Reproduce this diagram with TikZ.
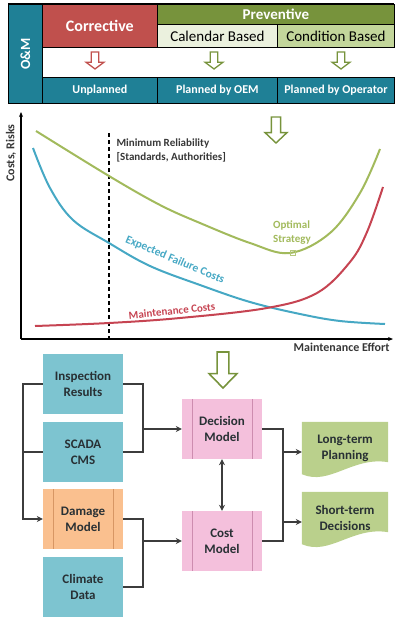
\documentclass[tikz,border=0pt]{standalone}
\usepackage{fontspec}
\setmainfont{Carlito}
\usepackage{xcolor}
\usetikzlibrary{arrows.meta, positioning, calc, backgrounds}
\definecolor{OMTeal}{RGB}{31,128,150}
\definecolor{CorrRed}{RGB}{192,80,77}
\definecolor{PrevGreen}{RGB}{119,147,60}
\definecolor{CalFill}{RGB}{235,241,222}
\definecolor{CondFill}{RGB}{195,214,155}
\definecolor{CurveGreen}{RGB}{162,186,92}
\definecolor{CurveBlue}{RGB}{70,168,196}
\definecolor{CurveRed}{RGB}{198,68,82}
\definecolor{LabelGray}{RGB}{55,55,55}
\definecolor{InputTeal}{RGB}{125,196,208}
\definecolor{ModelPink}{RGB}{244,192,220}
\definecolor{ModelPinkLine}{RGB}{205,140,175}
\definecolor{DamageOrange}{RGB}{250,192,143}
\definecolor{DamageLine}{RGB}{215,150,100}
\definecolor{DocGreen}{RGB}{186,208,140}
\definecolor{BoxText}{RGB}{40,48,52}
\definecolor{ConnGray}{RGB}{60,60,60}
\tikzstyle{cell} = [draw=black, line width=0.8pt, inner sep=0pt, anchor=north west]
\tikzstyle{curve} = [line width=2pt, smooth, tension=0.6]
\tikzstyle{inbox} = [rectangle, fill=InputTeal, minimum width=80pt, minimum height=60pt, text=BoxText, align=center, font=\bfseries\fontsize{13}{16}\selectfont]
\tikzstyle{docbox} = [rectangle, minimum width=86pt, minimum height=52pt, text=BoxText, align=center, font=\bfseries\fontsize{13}{16}\selectfont]
\tikzstyle{conn} = [line width=1.4pt, ConnGray, >={Stealth[length=6pt, width=6pt]}]
\tikzset{
  barbox/.style={inbox, path picture={
    \draw[#1, line width=0.8pt] ([xshift=10pt]path picture bounding box.north west) -- ([xshift=10pt]path picture bounding box.south west)
      ([xshift=-10pt]path picture bounding box.north east) -- ([xshift=-10pt]path picture bounding box.south east);}},
  hollowarrow/.pic={
    \draw[pic actions] (-0.21,0) -- (0.21,0) -- (0.21,0.6) -- (0.5,0.6) -- (0,1) -- (-0.5,0.6) -- (-0.21,0.6) -- cycle;}
}
\newcommand{\docfill}[1]{\fill[DocGreen] (#1.north west) -- (#1.north east) -- ([yshift=12pt]#1.south east)
  .. controls ([xshift=-36pt,yshift=18pt]#1.south east) and ([xshift=28pt,yshift=-12pt]#1.south west) .. (#1.south west) -- cycle;}

\begin{document}
\begin{tikzpicture}[x=1pt, y=-1pt]
    \useasboundingbox (0,0) rectangle (394,618);

    % O&M table
    \node[cell, fill=OMTeal, minimum width=34pt, minimum height=99pt] (om) at (8,4) {};
    \node[rotate=90, text=white, font=\bfseries\fontsize{14}{16}\selectfont] (omlabel) at (om.center) {O\&M};
    \node[cell, fill=CorrRed, minimum width=115pt, minimum height=43pt, text=white, font=\bfseries\fontsize{16}{18}\selectfont] (corr) at (42,4) {Corrective};
    \node[cell, fill=PrevGreen, minimum width=237pt, minimum height=20pt, text=white, font=\bfseries\fontsize{15}{17}\selectfont] (prev) at (157,4) {Preventive};
    \node[cell, fill=CalFill, minimum width=120pt, minimum height=23pt, font=\fontsize{15}{17}\selectfont] (cal) at (157,24) {Calendar Based};
    \node[cell, fill=CondFill, minimum width=117pt, minimum height=23pt, font=\fontsize{15}{17}\selectfont] (cond) at (277,24) {Condition Based};
    \foreach \name/\x/\w/\txt in {unpl/42/115/Unplanned, oem/157/120/Planned by OEM, oper/277/117/Planned by Operator} {
        \node[cell, fill=OMTeal, minimum width=\w pt, minimum height=26pt, text=white, font=\bfseries\fontsize{12}{14}\selectfont] (\name) at (\x,77) {\txt};
    }
    \draw[line width=1.6pt] (8,4) -- (394,4);
    \draw[line width=0.8pt] (42,47) -- (42,77);

    \pic[draw=CorrRed, line width=1.3pt, xscale=18, yscale=17] at (95,52) {hollowarrow};
    \foreach \x in {214, 341} {
        \pic[draw=PrevGreen, line width=1.3pt, xscale=18, yscale=17] at (\x,52) {hollowarrow};
    }

    % cost curves
    \pic[draw=PrevGreen, line width=1.4pt, xscale=22, yscale=26] at (276,117) {hollowarrow};
    \draw[line width=1.6pt, -{Stealth[length=5pt, width=4pt]}] (21,339) -- (21,112);
    \draw[line width=1.6pt, -{Stealth[length=5pt, width=4pt]}] (21,339) -- (393,339);
    \node[rotate=90, text=LabelGray, font=\bfseries\fontsize{12}{14}\selectfont] (ylabel) at (11,153) {Costs, Risks};
    \node[anchor=east, text=LabelGray, font=\bfseries\fontsize{12}{14}\selectfont] (xlabel) at (393,347) {Maintenance Effort};
    \draw[line width=1.2pt, dash pattern=on 4pt off 3pt] (109,133) -- (109,339);
    \node[anchor=west, align=left, text=LabelGray, font=\bfseries\fontsize{11}{14}\selectfont] (minrel) at (113,150) {Minimum Reliability\\{[}Standards, Authorities{]}};

    \draw[curve, CurveGreen] plot coordinates {(36,131) (109,176) (160,205) (200,223) (250,243) (290,253) (330,233) (360,193) (380,149)};
    \draw[curve, CurveBlue] plot coordinates {(33,148) (50,188) (73,220) (109,243) (150,266) (200,285) (250,302) (300,314) (340,321) (385,324)};
    \draw[curve, CurveRed] plot coordinates {(35,326) (109,323) (180,318) (267,308) (317,293) (350,262) (367,232) (383,187)};
    \draw[CurveGreen!80, line width=1pt] (290.5,250.5) rectangle (295.5,255.5);
    \node[align=left, text=CurveGreen, font=\bfseries\fontsize{11}{14}\selectfont] (optimal) at (292,233) {Optimal\\Strategy};
    \node[rotate=-23, text=CurveBlue, font=\bfseries\fontsize{11.5}{14}\selectfont] (failcost) at (175,260) {Expected Failure Costs};
    \node[rotate=6, text=CurveRed, font=\bfseries\fontsize{11}{14}\selectfont] (maintcost) at (172,311) {Maintenance Costs};

    % decision flow
    \pic[draw=PrevGreen, line width=1.6pt, xscale=28, yscale=36] at (223,352) {hollowarrow};
    \node[inbox] (insp) at (83,384) {Inspection\\Results};
    \node[inbox] (scada) at (83,452) {SCADA\\CMS};
    \node[barbox=DamageLine, fill=DamageOrange] (dmg) at (83,519) {Damage\\Model};
    \node[inbox] (clim) at (83,587) {Climate\\Data};
    \node[barbox=ModelPinkLine, fill=ModelPink] (dec) at (222,429) {Decision\\Model};
    \node[barbox=ModelPinkLine, fill=ModelPink] (cost) at (222,541) {Cost\\Model};
    \node[docbox] (lt) at (345,448) {Long-term\\Planning};
    \node[docbox] (st) at (345,518) {Short-term\\Decisions};
    \begin{scope}[on background layer]
        \docfill{lt}
        \docfill{st}
    \end{scope}

    \coordinate (lbus) at (23,0);
    \coordinate (rbus) at (143,0);
    \coordinate (obus) at (283,0);
    \coordinate (ltin) at ($(lt.west)+(0,4)$);
    \coordinate (stin) at ($(st.west)+(0,4)$);
    \draw[conn, ->] (insp.west) -- (insp.west -| lbus) |- (dmg.west);
    \draw[conn] (scada.west) -- (scada.west -| lbus);
    \draw[conn] (insp.east) -| (rbus |- scada.east) -- (scada.east);
    \draw[conn, ->] (rbus |- dec.west) -- (dec.west);
    \draw[conn] (dmg.east) -| (rbus |- clim.east) -- (clim.east);
    \draw[conn, ->] (rbus |- cost.west) -- (cost.west);
    \draw[conn, <->] (dec.south) -- (cost.north);
    \draw[conn] (dec.east) -| (obus |- cost.east) -- (cost.east);
    \draw[conn, ->] (obus |- ltin) -- (ltin);
    \draw[conn, ->] (obus |- stin) -- (stin);
\end{tikzpicture}
\end{document}
